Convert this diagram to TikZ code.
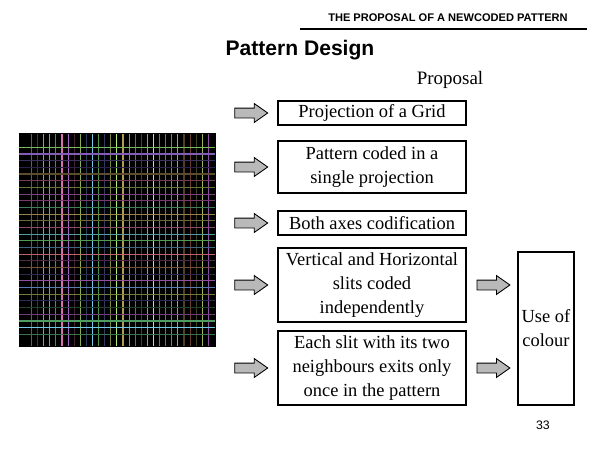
\documentclass[tikz,border=0pt]{standalone}
\usepackage{fontspec}
\setmainfont{Liberation Serif}
\setsansfont{Liberation Sans}
\usetikzlibrary{shapes.arrows,positioning}

\begin{document}
\begin{tikzpicture}[x=0.02cm,y=-0.02cm,
	idea/.style={draw, line width=0.6pt, minimum width=3.76cm, align=center, inner sep=0pt, font=\fontsize{10.5}{13.6}\selectfont},
	pointer/.style={single arrow, draw, line width=0.5pt, fill=gray!55, inner xsep=0pt, inner ysep=0.09cm, single arrow head extend=0.09cm, single arrow tip angle=70, minimum height=0.66cm},
	slitline/.style={line width=0.6pt}]
			\useasboundingbox (0,0) rectangle (600,450); % slide size
			% heading
			\node[font=\sffamily\bfseries\fontsize{6.3}{8}\selectfont] (head) at (448,18) {THE PROPOSAL OF A NEWCODED PATTERN};
			\draw[line width=0.6pt] (300,29) -- (587,29);
			\node[font=\sffamily\bfseries\fontsize{12}{14}\selectfont] (title) at (300,50) {Pattern Design};
			\node[font=\fontsize{10.8}{12}\selectfont] (prop) at (450,80) {Proposal};
				% the projected grid
				\fill[black] (19,133) rectangle (216,347);
				\pgfmathsetseed{33}
				\foreach \i in {0,...,29}{
					\pgfmathsetmacro\xx{31.5+6.1*\i}
					\pgfmathsetmacro\hh{int(360*rnd)}
					\pgfmathsetmacro\bb{0.25+0.7*rnd^1.5}
					\definecolor{slitcol}{Hsb}{\hh,0.5,\bb}
					\draw[slitline, slitcol] (\xx,134) -- (\xx,346);
				}
				\foreach \j in {0,...,28}{
					\pgfmathsetmacro\yy{147.3+6.68*\j}
					\pgfmathsetmacro\hh{int(360*rnd)}
					\pgfmathsetmacro\bb{0.25+0.7*rnd^1.5}
					\definecolor{slitcol}{Hsb}{\hh,0.5,\bb}
					\draw[slitline, slitcol] (19,\yy) -- (215,\yy);
				}
			% proposal boxes
			\node[idea, minimum height=0.48cm] (b1) at (372,113) {Projection of a Grid};
			\node[idea, minimum height=1.04cm] (b2) at (372,167) {Pattern coded in a\\single projection};
			\node[idea, minimum height=0.48cm] (b3) at (372,223) {Both axes codification};
			\node[idea, minimum height=1.48cm] (b4) at (372,285) {Vertical and Horizontal\\slits coded\\independently};
			\node[idea, minimum height=1.48cm] (b5) at (372,368) {Each slit with its two\\neighbours exits only\\once in the pattern};
			\node[idea, minimum width=1.12cm, minimum height=3.06cm] (b6) at (546,328.5) {Use of\\colour};
				\node[pointer, left=0.18cm of b1] (p1) {};
				\node[pointer, left=0.18cm of b2] (p2) {};
				\node[pointer, left=0.18cm of b3] (p3) {};
				\node[pointer, left=0.18cm of b4] (p4) {};
				\node[pointer, left=0.18cm of b5] (p5) {};
				\node[pointer, right=0.2cm of b4] (q4) {};
				\node[pointer, right=0.2cm of b5] (q5) {};
			\node[font=\sffamily\fontsize{7}{8}\selectfont] (page) at (543,425) {33};
			\end{tikzpicture}
\end{document}
